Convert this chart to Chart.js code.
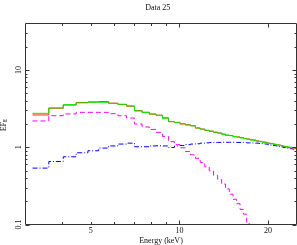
<!DOCTYPE html>
<html lang="en">
<head>
<meta charset="UTF-8">
<title>Data 25</title>
<script src="https://cdn.jsdelivr.net/npm/chart.js"></script>
<style>
  html, body { margin: 0; padding: 0; background: #fff; }
  #wrap { width: 297px; height: 245px; }
</style>
</head>
<body>
<div id="wrap"><canvas id="spec" width="297" height="245"></canvas></div>
<script>
// energy bin edges (keV)
const binEdges = [3.17, 3.60, 4.03, 4.46, 4.89, 5.32, 5.75, 6.18, 6.61, 7.04, 7.47, 7.90, 8.33,
  8.76, 9.19, 9.62, 10.05, 10.48, 10.91, 11.34, 11.77, 12.20, 12.63, 13.06, 13.49, 13.92,
  14.35, 14.78, 15.21, 15.64, 16.07, 16.50, 16.93, 17.36, 17.79, 18.22, 18.65, 19.08, 19.51,
  19.94, 20.37, 20.80, 21.23, 21.66, 22.09, 22.52, 22.95, 23.38, 23.81, 24.24, 24.67, 25.10];

// unfolded data (red)
const dataFlux = [2.62, 3.20, 3.52, 3.80, 3.86, 3.90, 3.72, 3.58, 3.40, 2.98, 2.84, 2.68, 2.60,
  2.40, 2.14, 2.10, 2.00, 1.96, 1.90, 1.77, 1.72, 1.65, 1.62, 1.56, 1.53, 1.48, 1.43, 1.42,
  1.37, 1.36, 1.33, 1.30, 1.28, 1.25, 1.24, 1.21, 1.19, 1.17, 1.16, 1.13, 1.12, 1.10, 1.08,
  1.07, 1.05, 1.02, 1.01, 0.99, 0.98, 0.98, 0.96];

// total model (green)
const modelTotal = [2.75, 3.23, 3.56, 3.75, 3.82, 3.82, 3.70, 3.60, 3.43, 2.95, 2.81, 2.70, 2.59,
  2.37, 2.16, 2.08, 2.02, 1.94, 1.89, 1.78, 1.71, 1.66, 1.61, 1.57, 1.52, 1.47, 1.44, 1.41,
  1.38, 1.35, 1.32, 1.29, 1.27, 1.24, 1.22, 1.20, 1.18, 1.16, 1.14, 1.13, 1.11, 1.09, 1.08,
  1.06, 1.05, 1.03, 1.02, 1.01, 1.00, 0.99, 0.98];

// soft component (magenta, dashed)
const compSoft = [2.19, 2.56, 2.70, 2.83, 2.83, 2.83, 2.72, 2.56, 2.39, 2.00, 1.83, 1.70, 1.56,
  1.38, 1.18, 1.08, 0.985, 0.882, 0.799, 0.720, 0.635, 0.558, 0.495, 0.433, 0.381, 0.334,
  0.289, 0.247, 0.212, 0.186, 0.157, 0.136, 0.102, 0.085, 0.071];

// hard component (blue, dash-dot)
const compHard = [0.537, 0.654, 0.753, 0.848, 0.901, 0.976, 1.04, 1.10, 1.13, 1.015, 1.015, 1.04,
  1.045, 1.04, 0.994, 1.04, 1.055, 1.08, 1.10, 1.11, 1.13, 1.14, 1.15, 1.155, 1.155, 1.16, 1.16,
  1.16, 1.16, 1.155, 1.155, 1.15, 1.14, 1.14, 1.13, 1.13, 1.12, 1.11, 1.10, 1.08, 1.07, 1.055,
  1.04, 1.02, 1.01, 0.994, 0.98, 0.968, 0.956, 0.945, 0.936];

// axis ticks
const xLabelTicks = [5, 10, 20];
const xMajorTicks = [10, 20];
const xMinorTicks = [4, 5, 6, 7, 8, 9];
const yLabelTicks = [0.1, 1, 10];
const yMajorTicks = [0.1, 1, 10];
const yMinorTicks = [0.2, 0.3, 0.4, 0.5, 0.6, 0.7, 0.8, 0.9, 2, 3, 4, 5, 6, 7, 8, 9, 20, 30];

const serif = "'Liberation Serif', 'Times New Roman', serif";
const ink = '#111';

// histogram -> points at left edges plus closing edge
function steps(edges, vals) {
  const pts = vals.map((v, i) => ({x: edges[i], y: v}));
  pts.push({x: edges[vals.length], y: vals[vals.length - 1]});
  return pts;
}

// PGPLOT style box with inward ticks on all four sides, plus y labels
const frameTicks = {
  id: 'frameTicks',
  afterDatasetsDraw(chart) {
    const {ctx, chartArea: a, scales: {x, y}} = chart;
    ctx.save();
    ctx.strokeStyle = '#333';
    ctx.lineWidth = 1;
    ctx.beginPath();
    ctx.rect(a.left, a.top, a.right - a.left, a.bottom - a.top);
    const xt = (vals, len) => vals.forEach(v => {
      const px = Math.round(x.getPixelForValue(v)) + 0.5;
      ctx.moveTo(px, a.bottom); ctx.lineTo(px, a.bottom - len);
      ctx.moveTo(px, a.top); ctx.lineTo(px, a.top + len);
    });
    const yt = (vals, len) => vals.forEach(v => {
      const py = Math.round(y.getPixelForValue(v)) + 0.5;
      ctx.moveTo(a.left, py); ctx.lineTo(a.left + len, py);
      ctx.moveTo(a.right, py); ctx.lineTo(a.right - len, py);
    });
    xt(xMajorTicks, 4);
    xt(xMinorTicks, 2.5);
    yt(yMajorTicks, 4);
    yt(yMinorTicks, 2);
    ctx.stroke();

    ctx.fillStyle = ink;
    ctx.font = '8px ' + serif;
    ctx.textAlign = 'center';
    ctx.textBaseline = 'alphabetic';
    // y tick labels, written bottom to top
    yLabelTicks.forEach(v => {
      const py = y.getPixelForValue(v);
      ctx.save();
      ctx.translate(a.left - 4.8, py);
      ctx.rotate(-Math.PI / 2);
      ctx.fillText(String(v), 0, 0);
      ctx.restore();
    });

    // y axis title EF with subscript E
    const w1 = ctx.measureText('EF').width;
    ctx.font = '5.5px ' + serif;
    const w2 = ctx.measureText('E').width;
    const mid = (a.top + a.bottom) / 2 + 1;
    ctx.translate(5.5, mid + (w1 + w2) / 2);
    ctx.rotate(-Math.PI / 2);
    ctx.textAlign = 'left';
    ctx.font = '8px ' + serif;
    ctx.fillText('EF', 0, 0);
    ctx.font = '5.5px ' + serif;
    ctx.fillText('E', w1, 1.5);
    ctx.restore();
  }
};

const lineBase = {
  borderWidth: 1,
  pointRadius: 0,
  stepped: 'before',
  fill: false,
  tension: 0
};

new Chart(document.getElementById('spec'), {
  type: 'line',
  data: {
    datasets: [
      Object.assign({label: 'model', data: steps(binEdges, modelTotal), borderColor: '#00ee00'}, lineBase),
      Object.assign({label: 'data', data: steps(binEdges, dataFlux), borderColor: '#ff2a00'}, lineBase),
      Object.assign({label: 'soft', data: steps(binEdges, compSoft), borderColor: '#ff00ff', borderDash: [5, 3]}, lineBase),
      Object.assign({label: 'hard', data: steps(binEdges, compHard), borderColor: '#0000ff', borderDash: [5, 2, 1, 2]}, lineBase)
    ]
  },
  options: {
    responsive: false,
    animation: false,
    devicePixelRatio: 1,
    events: [],
    layout: {padding: {left: 19, right: 0.5, top: 0, bottom: 0}},
    plugins: {
      legend: {display: false},
      tooltip: {enabled: false},
      title: {
        display: true,
        text: 'Data 25',
        color: ink,
        font: {family: serif, size: 8, weight: 'normal'},
        padding: {top: 3.5, bottom: 10.4}
      }
    },
    scales: {
      x: {
        type: 'logarithmic',
        min: 3,
        max: 25,
        grid: {display: false, drawTicks: false},
        border: {display: false},
        afterBuildTicks: s => { s.ticks = xLabelTicks.map(v => ({value: v})); },
        afterFit: s => { s.height = 20.5; },
        ticks: {
          autoSkip: false, maxRotation: 0, padding: 2, color: ink,
          font: {family: serif, size: 8},
          callback: v => String(v)
        },
        title: {
          display: true, text: 'Energy (keV)', color: ink,
          font: {family: serif, size: 8, lineHeight: 1},
          padding: {top: 0, bottom: 0.5}
        }
      },
      y: {
        type: 'logarithmic',
        min: 0.1,
        max: 40,
        grid: {display: false, drawTicks: false},
        border: {display: false},
        afterBuildTicks: s => { s.ticks = yLabelTicks.map(v => ({value: v})); },
        afterFit: s => { s.width = 6.5; },
        ticks: {display: false}
      }
    }
  },
  plugins: [frameTicks]
});
</script>
</body>
</html>
